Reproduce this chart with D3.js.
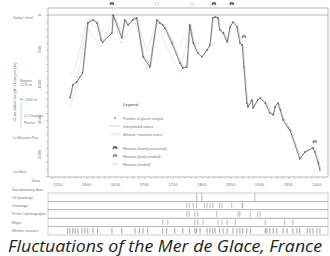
<!DOCTYPE html>
<html>
<head>
<meta charset="utf-8">
<script src="https://cdn.jsdelivr.net/npm/d3@7"></script>
<style>
  body { margin: 0; background: #fff; }
  svg text { font-family: "Liberation Sans", sans-serif; fill: #777; }
</style>
</head>
<body>
<svg id="chart" width="330" height="256"></svg>
<script>
// glacier tongue position (year, cumulative length change in m)
const years = [1571,1576,1583,1593,1602,1611,1618,1625,1628,1644,1646,1661,1666,1672,1680,1687,1698,1710,1722,1727,1732,1736,1748,1762,1767,1774,1779,1785,1793,1800,1809,1814,1819,1823,1828,1831,1837,1844,1849,1854,1861,1866,1870,1873,1878,1880,1887,1889,1897,1901,1910,1918,1924,1927,1932,1936,1941,1950,1953,1970,1979,1993,1996,2002,2005];
const lengths = [-1186,-1000,-957,-829,-114,-71,-114,-357,-386,-257,0,-329,-71,-143,-71,-43,-600,-743,-71,-114,-143,-186,-400,-686,-757,-743,-143,-400,-543,-600,-500,-429,-43,-29,-43,-214,-257,-386,-171,-100,-171,-400,-429,-743,-1257,-1314,-1214,-1329,-1214,-1186,-1257,-1400,-1429,-1314,-1257,-1357,-1500,-1614,-1643,-2057,-1957,-1900,-1957,-2114,-2214];

// minimal / maximal extent (early period)
const extYears = [1571,1580,1600,1625,1646,1660,1685,1705,1722,1740,1762,1779,1790];
const maxExt = [-850,-780,-80,-250,0,-200,-30,-520,-60,-300,-460,-120,-430];
const minExt = [-1320,-1100,-180,-460,-40,-400,-110,-780,-110,-480,-820,-200,-580];

// moraines: year, value (null = drawn in top band), type
const moraineYears = [1644,1722,1783,1821,1852,1873,1996];
const moraineValues = [null,null,null,null,null,-314,-1814];
const moraineTypes = ["preserved","eroded","eroded","preserved","preserved","partly","partly"];

const yTicks = [0,-500,-1000,-1500,-2000];
const xTicks = [1550,1600,1650,1700,1750,1800,1850,1900,1950,2000];

const landmarks = ["Today's level","Rognes","1575 m","Pt. 1650 m","Le Chapeau","Rocher","Le Mauvais Pas","Les Bois"];
const landmarkValues = [-30,-930,-990,-1200,-1430,-1540,-1750,-2240];

// documentary data rows
const docRows = ["Oil paintings","Drawings","Prints / photographs","Maps","Written sources"];
const docYears = [
  [1791,1800,1892],
  [1774,1779,1785,1791,1805,1809,1814,1819,1831,1835,1852,1870,1871],
  [1774,1778,1788,1793,1826,1863,1866,1884,1897,1901],
  [1732,1741,1788,1793,1802,1828,1835,1844,1858,1910,1944,1958],
  [1567,1571,1576,1580,1585,1592,1597,1602,1611,1619,1644,1661,1684,1692,1698,1706,1732,1739,1753,1767,1779,1788,1791,1797,1809,1814,1819,1823,1831,1837,1844,1854,1861,1866,1871,1878,1884,1910,1913,1918,1924,1930,1941,1948,1958,1965,1970,1983,1988,1993,2000,2005]
];

const legendLabels = ["Position of glacier tongue","Interpolated values","Minimal / maximal extent","","Moraine (mainly preserved)","Moraine (partly eroded)","Moraine (eroded)"];

const svg = d3.select("#chart");
const plot = {left: 48, right: 328, top: 8, bottom: 177};

const x = d3.scaleLinear().domain([1533, 2019]).range([plot.left, plot.right]);
const y = d3.scaleLinear().domain([100, -2314]).range([plot.top, plot.bottom]);

// frame + today's line
svg.append("rect")
  .attr("x", plot.left).attr("y", plot.top)
  .attr("width", plot.right - plot.left).attr("height", plot.bottom - plot.top)
  .attr("fill", "none").attr("stroke", "#999").attr("stroke-width", 0.7);
svg.append("line")
  .attr("x1", plot.left).attr("x2", plot.right)
  .attr("y1", y(0)).attr("y2", y(0))
  .attr("stroke", "#aaa").attr("stroke-width", 0.8);

// y axis
const yAxis = d3.axisLeft(y).tickValues(d3.range(0, -2301, -100)).tickSize(2).tickFormat("");
svg.append("g").attr("transform", `translate(${plot.left},0)`).call(yAxis)
  .call(g => g.select(".domain").remove())
  .call(g => g.selectAll("line").attr("stroke", "#999").attr("stroke-width", 0.5));
svg.append("g").selectAll("text").data(yTicks).enter().append("text")
  .attr("transform", d => `translate(41,${y(d)}) rotate(-90)`)
  .attr("text-anchor", "middle")
  .attr("font-size", 4.3)
  .text(d => d);

svg.append("text")
  .attr("transform", `translate(16,92) rotate(-90)`)
  .attr("text-anchor", "middle").attr("font-size", 4.3)
  .text("Cumulative length changes (m)");

svg.append("g").selectAll("text").data(landmarks).enter().append("text")
  .attr("x", (d, i) => (i >= 1 && i <= 3) ? 20 : (i === 4 || i === 5) ? 24 : 13)
  .attr("y", (d, i) => y(landmarkValues[i]) + 1.5)
  .attr("font-size", 3.5)
  .text(d => d);
svg.append("line")
  .attr("x1", 21).attr("x2", 21)
  .attr("y1", y(-1240)).attr("y2", y(-1620))
  .attr("stroke", "#aaa").attr("stroke-width", 0.5);

// x axis
const xAxis = d3.axisBottom(x).tickValues(d3.range(1540, 2020, 10)).tickSize(2).tickFormat("");
svg.append("g").attr("transform", `translate(0,${plot.bottom})`).call(xAxis)
  .call(g => g.select(".domain").remove())
  .call(g => g.selectAll("line").attr("stroke", "#999").attr("stroke-width", 0.5));
svg.append("g").selectAll("text").data(xTicks).enter().append("text")
  .attr("x", d => x(d)).attr("y", 186)
  .attr("text-anchor", "middle").attr("font-size", 4.3)
  .text(d => d);
svg.append("text").attr("x", 40).attr("y", 182)
  .attr("text-anchor", "end").attr("font-size", 4.3).text("Year");

// min / max extent
const extLine = d3.line().x(d => x(d[0])).y(d => y(d[1]));
[maxExt, minExt].forEach(ext => {
  svg.append("path")
    .datum(extYears.map((yr, i) => [yr, ext[i]]))
    .attr("d", extLine)
    .attr("fill", "none").attr("stroke", "#bbb")
    .attr("stroke-width", 0.6).attr("stroke-dasharray", "1,1");
});

// interpolated (light) + main curve
const pts = years.map((yr, i) => [yr, lengths[i]]);
svg.append("path").datum(pts)
  .attr("d", d3.line().x(d => x(d[0]) + 0.8).y(d => y(d[1]) - 0.8))
  .attr("fill", "none").attr("stroke", "#ccc").attr("stroke-width", 0.8);
svg.append("path").datum(pts)
  .attr("d", extLine)
  .attr("fill", "none").attr("stroke", "#555").attr("stroke-width", 0.75);
svg.append("g").selectAll("circle").data(pts).enter().append("circle")
  .attr("cx", d => x(d[0])).attr("cy", d => y(d[1]))
  .attr("r", 0.7).attr("fill", "#444");

// moraine symbol
function moraine(g, type) {
  const fill = type === "preserved" ? "#444" : type === "partly" ? "#777" : "none";
  const stroke = type === "eroded" ? "#bbb" : fill;
  g.append("path")
    .attr("d", "M-2,0.7 L-2,0 A2,1.7 0 0 1 2,0 L2,0.7 Z")
    .attr("fill", fill).attr("stroke", stroke).attr("stroke-width", 0.5);
  g.append("path")
    .attr("d", "M-0.8,0.7 L-0.8,0.2 A0.8,0.7 0 0 1 0.8,0.2 L0.8,0.7")
    .attr("fill", "#fff").attr("stroke", "none");
}
moraineYears.forEach((yr, i) => {
  const cy = moraineValues[i] === null ? plot.top - 4 : y(moraineValues[i]);
  const g = svg.append("g").attr("transform", `translate(${x(yr)},${cy})`);
  moraine(g, moraineTypes[i]);
});

// legend
const legend = svg.append("g");
legend.append("text").attr("x", 123).attr("y", 106)
  .attr("font-size", 4.3).attr("font-weight", "bold").attr("fill", "#666").text("Legend");
legendLabels.forEach((lab, i) => {
  if (lab === "") return;
  const ly = [118, 126, 134, 0, 148, 156, 164][i];
  legend.append("text").attr("x", 123).attr("y", ly + 1.5)
    .attr("font-size", 3.6).text(lab);
  if (i === 0) {
    legend.append("circle").attr("cx", 115).attr("cy", ly).attr("r", 0.8).attr("fill", "#444");
  } else if (i === 1) {
    legend.append("line").attr("x1", 110).attr("x2", 119).attr("y1", ly).attr("y2", ly)
      .attr("stroke", "#ccc").attr("stroke-width", 0.9);
  } else if (i === 2) {
    legend.append("line").attr("x1", 110).attr("x2", 119).attr("y1", ly).attr("y2", ly)
      .attr("stroke", "#aaa").attr("stroke-width", 0.7).attr("stroke-dasharray", "1,1");
  } else {
    const g = legend.append("g").attr("transform", `translate(115,${ly})`);
    moraine(g, ["preserved", "partly", "eroded"][i - 4]);
  }
});

// documentary data panel
const rowY = d3.scaleBand().domain(docRows).range([193, 235]);
svg.append("text").attr("x", 12).attr("y", 190.5).attr("font-size", 3.8).text("Documentary data");
const rows = svg.append("g");
docRows.forEach((r, i) => {
  rows.append("rect")
    .attr("x", plot.left).attr("y", rowY(r))
    .attr("width", plot.right - plot.left).attr("height", rowY.bandwidth())
    .attr("fill", "none").attr("stroke", "#aaa").attr("stroke-width", 0.6);
  rows.append("text").attr("x", 12).attr("y", rowY(r) + rowY.bandwidth() / 2 + 1.3)
    .attr("font-size", 3.8).text(r);
  rows.selectAll(null).data(docYears[i]).enter().append("line")
    .attr("x1", d => x(d)).attr("x2", d => x(d))
    .attr("y1", rowY(r) + (i === 0 ? 0 : 1.5))
    .attr("y2", rowY(r) + rowY.bandwidth() - (i === 0 ? 0 : 1.5))
    .attr("stroke", i === 4 ? "#777" : "#999")
    .attr("stroke-width", 0.7);
});

// caption
svg.append("text")
  .attr("x", 165).attr("y", 252)
  .attr("text-anchor", "middle")
  .attr("font-size", 16)
  .attr("font-style", "italic")
  .style("font-family", "'Open Sans', sans-serif")
  .style("fill", "#222")
  .attr("textLength", 314).attr("lengthAdjust", "spacingAndGlyphs")
  .text("Fluctuations of the Mer de Glace, France");
</script>
</body>
</html>
